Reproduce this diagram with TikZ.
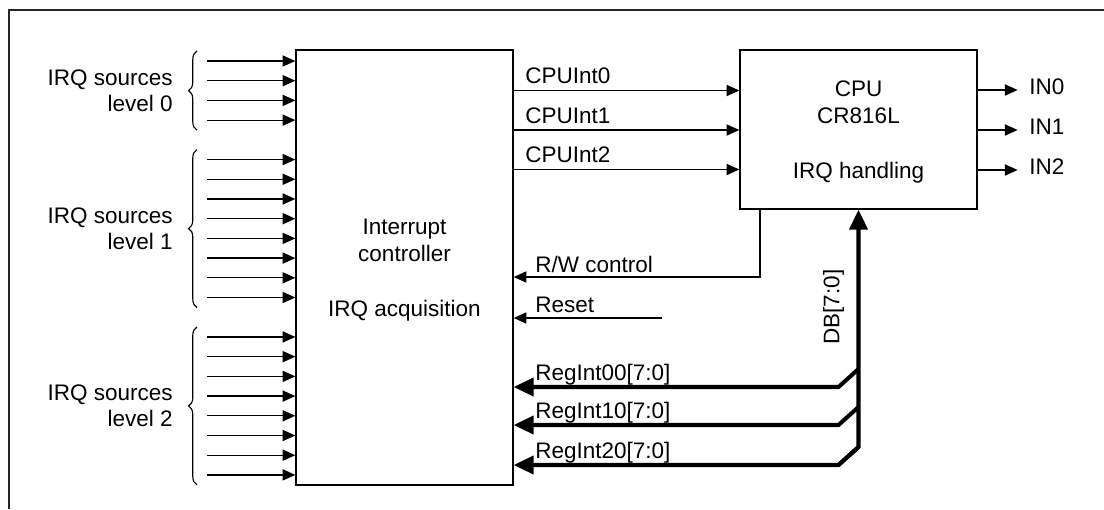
\documentclass[tikz,border=0pt]{standalone}
\usepackage{fontspec}
\setmainfont{Liberation Sans}
\usetikzlibrary{arrows.meta, decorations.pathreplacing, calc}

\begin{document}
\begin{tikzpicture}[x=0.025cm, y=-0.025cm,
    lbl/.style={inner sep=0pt, font=\fontsize{16}{19.5}\selectfont},
    blk/.style={rectangle, draw, line width=0.9pt, inner sep=0pt},
    arr/.style={-{Triangle[length=0.32cm, width=0.28cm]}, line width=0.9pt},
    bus/.style={line width=2.9pt},
    busarr/.style={bus, -{Triangle[length=0.5cm, width=0.45cm]}},
    brc/.style={decorate, decoration={brace, amplitude=6pt}, line width=0.8pt}
  ]
  \useasboundingbox (0,0) rectangle (1104,509);
  \draw[line width=0.9pt, black!85] (9,509) -- (9,10) -- (1104,10);

  \node[blk, minimum width=5.425cm, minimum height=10.875cm] (ctrl) at (404.5,267.5) {};
  \node[lbl, align=center] (ctrltxt) at (404.5,270)
        {Interrupt\\controller\\[19.5pt]IRQ acquisition};
  \node[blk, minimum width=5.925cm, minimum height=3.975cm] (cpu) at (858.5,129.5) {};
  \node[lbl, align=center] (cputxt) at (858.5,132)
        {CPU\\CR816L\\[19.5pt]IRQ handling};

  \foreach \g/\s/\n in {0/0/3, 1/5/12, 2/14/21}{
    \foreach \i in {\s,...,\n}{
      \coordinate (src\i) at (207,{61+19.71*\i});
      \draw[arr] (src\i) -- (src\i -| ctrl.west);
    }
    \draw[brc] (197,{61+19.71*\n+10}) -- (197,{61+19.71*\s-10});
    \node[lbl, align=right, anchor=east, font=\fontsize{16}{18.4}\selectfont] (lvl\g)
          at (173,{61+19.71*(\s+\n)/2}) {IRQ sources\\level \g};
  }

  \foreach \k/\y in {0/90.5, 1/130, 2/169.5}{
    \draw[arr] (ctrl.east |- 0,\y) -- (cpu.west |- 0,\y);
    \node[lbl, anchor=base west] (cpuint\k) at (525,{\y-7}) {CPUInt\k};
  }

  \foreach \k/\y in {0/90, 1/130, 2/170}{
    \draw[arr] (cpu.east |- 0,\y) -- ++(40,0) coordinate (out\k);
    \node[lbl, anchor=base west] (in\k) at (1029,{\y+4}) {IN\k};
  }

  \coordinate (rw) at (760,277);
  \draw[arr] (rw |- cpu.south) -- (rw) -- (rw -| ctrl.east);
  \node[lbl, anchor=base west] (rwlbl) at (535,272) {R/W control};

  \coordinate (rst) at (662,318);
  \draw[arr] (rst) -- (rst -| ctrl.east);
  \node[lbl, anchor=base west] (rstlbl) at (535,312) {Reset};

  \foreach \k/\y in {0/369, 1/407, 2/447}{
    \coordinate (tap\k) at (cpu.south |- 0,\y);
    \draw[busarr] (tap\k) -- ++(-20,18) coordinate (knee\k) -- (knee\k -| ctrl.east);
    \node[lbl, anchor=base west] (reg\k) at (535,{\y+11.5}) {RegInt\k0[7:0]};
  }
  \draw[busarr] (knee2) -- (tap2) -- (cpu.south);
  \node[lbl, rotate=90] (db) at (833.5,307) {DB[7:0]};
\end{tikzpicture}
\end{document}
